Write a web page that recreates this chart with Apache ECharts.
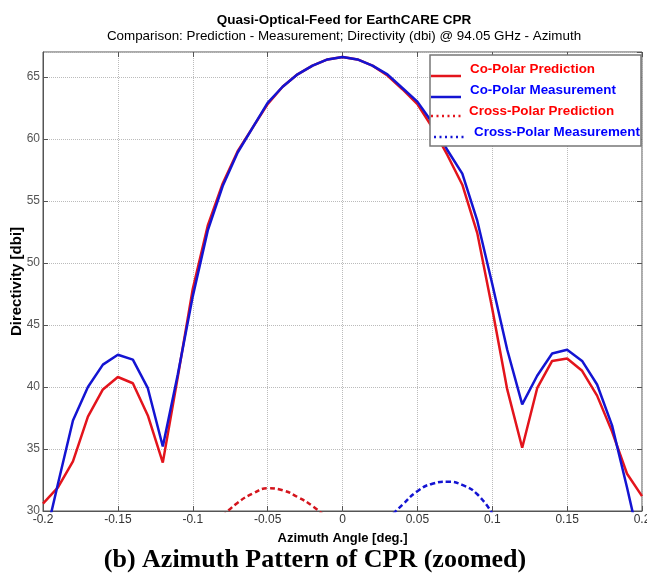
<!DOCTYPE html>
<html>
<head>
<meta charset="utf-8">
<script src="https://cdn.jsdelivr.net/npm/echarts@6/dist/echarts.min.js"></script>
<style>
html,body{margin:0;padding:0;background:#fff;}
#chart{width:647px;height:574px;}
</style>
</head>
<body>
<div id="chart"></div>
<script>
// Azimuth angles (deg.) for the co-polar curves
var angles = [-0.2,-0.19,-0.18,-0.17,-0.16,-0.15,-0.14,-0.13,-0.12,-0.11,-0.1,-0.09,-0.08,-0.07,-0.06,-0.05,-0.04,-0.03,-0.02,-0.01,0,
  0.01,0.02,0.03,0.04,0.05,0.06,0.07,0.08,0.09,0.1,0.11,0.12,0.13,0.14,0.15,0.16,0.17,0.18,0.19,0.2];
var coPolarPrediction = [30.6,31.9,34.0,37.6,39.8,40.8,40.3,37.7,33.9,40.8,47.9,53.0,56.4,59.0,60.9,62.8,64.2,65.2,65.9,66.4,66.6,
  66.4,65.9,65.1,64.0,62.8,60.9,58.7,56.3,52.4,46.3,39.8,35.1,39.9,42.1,42.3,41.3,39.3,36.4,33.0,31.2];
var coPolarMeasurement = [27.0,32.2,37.3,40.0,41.8,42.6,42.2,39.9,35.2,41.0,47.3,52.6,56.2,58.9,60.9,62.9,64.2,65.2,65.9,66.4,66.6,
  66.4,65.9,65.2,64.1,63.0,61.3,59.1,57.2,53.4,48.3,43.0,38.6,40.9,42.7,43.0,42.1,40.2,36.9,31.9,26.6];
var crossPredAngles = [-0.08,-0.07,-0.06,-0.05,-0.04,-0.03,-0.02,-0.01];
var crossPolarPrediction = [29.6,30.67,31.4,31.83,31.67,31.13,30.4,29.4];
var crossMeasAngles = [0.03,0.04,0.05,0.06,0.07,0.08,0.09,0.1];
var crossPolarMeasurement = [29.3,30.5,31.6,32.2,32.36,32.1,31.35,29.8];
var xTicks = [-0.2,-0.15,-0.1,-0.05,0,0.05,0.1,0.15,0.2];
var yTicks = [30,35,40,45,50,55,60,65];

var legendNames = ['Co-Polar Prediction','Co-Polar Measurement','Cross-Polar Prediction','Cross-Polar Measurement'];

var RED = '#e3141c', BLUE = '#1414d2';
function pairs(xs, ys){ return xs.map(function(x,i){ return [x, ys[i]]; }); }

var chart = echarts.init(document.getElementById('chart'), null, {renderer:'canvas'});
var FONT = 'Arial, "Liberation Sans", sans-serif';

var gridL = 43, gridT = 52, gridR = 5, gridB = 63;

var legendRows = [71, 92, 113, 134];
var legendGraphics = [
  {type:'rect', shape:{x:430, y:55, width:211, height:91}, style:{fill:'#fff', stroke:'#777', lineWidth:1.5}, z:100}
];
var lStyles = [
  {color:RED, dash:null, x1:431, x2:461, tx:470},
  {color:BLUE, dash:null, x1:431, x2:461, tx:470},
  {color:RED, dash:[2,3.5], x1:431, x2:461, tx:469},
  {color:BLUE, dash:[2,3.5], x1:434, x2:464, tx:474}
];
legendNames.forEach(function(n,i){
  var s = lStyles[i];
  legendGraphics.push({type:'line', shape:{x1:s.x1, y1:legendRows[i]+(s.dash?3:5), x2:s.x2, y2:legendRows[i]+(s.dash?3:5)},
    style:{stroke:s.color, lineWidth:2.5, lineDash:s.dash||null}, z:101});
  legendGraphics.push({type:'text', left:s.tx, top:legendRows[i]-8, style:{text:n, fill:s.color==RED?'#ff0000':'#0000ff',
    font:'bold 13.4px ' + FONT}, z:101});
});

var tickAxisCommon = {axisLine:{show:false, onZero:false}, axisTick:{show:true, inside:true, length:5, lineStyle:{color:'#555'}},
  axisLabel:{show:false}, splitLine:{show:false}};

var option = {
  backgroundColor:'#fff',
  animation:false,
  title:[
    {text:'Quasi-Optical-Feed for EarthCARE CPR', subtext:'Comparison: Prediction - Measurement; Directivity (dbi) @ 94.05 GHz - Azimuth',
     left:339, textAlign:'center', top:8, itemGap:3,
     textStyle:{fontFamily:FONT, fontWeight:'bold', fontSize:13.5, color:'#000'},
     subtextStyle:{fontFamily:FONT, fontSize:13.4, color:'#000'}},
    {text:'(b) Azimuth Pattern of CPR (zoomed)', left:310, textAlign:'center', top:542,
     textStyle:{fontFamily:'"Liberation Serif", "Times New Roman", serif', fontWeight:'bold', fontSize:26, color:'#000'}}
  ],
  grid:{left:gridL, right:gridR, top:gridT, bottom:gridB, show:true, borderColor:'#555', borderWidth:1, backgroundColor:'#fff',
        containLabel:false, outerBoundsMode:'none'},
  xAxis:[
    {type:'value', min:-0.2, max:0.2, interval:0.05, position:'bottom',
     name:'Azimuth Angle [deg.]', nameLocation:'middle', nameGap:21, nameMoveOverlap:false,
     nameTextStyle:{fontFamily:FONT, fontWeight:'bold', fontSize:13, color:'#000'},
     axisLine:{show:true, onZero:false, lineStyle:{color:'#555'}},
     axisTick:{show:true, inside:true, length:5, lineStyle:{color:'#555'}},
     axisLabel:{fontFamily:FONT, fontSize:12, color:'#333', margin:3,
       formatter:function(v){ return String(Math.round(v*100)/100); }},
     splitLine:{show:true, lineStyle:{color:'#bbb', type:'dotted'}}},
    Object.assign({type:'value', min:-0.2, max:0.2, interval:0.05, position:'top'}, tickAxisCommon)
  ],
  yAxis:[
    {type:'value', min:30, max:67, interval:5, position:'left',
     name:'Directivity [dbi]', nameLocation:'middle', nameGap:19, nameMoveOverlap:false,
     nameTextStyle:{fontFamily:FONT, fontWeight:'bold', fontSize:15, color:'#000'},
     axisLine:{show:true, onZero:false, lineStyle:{color:'#555'}},
     axisTick:{show:true, inside:true, length:5, lineStyle:{color:'#555'}},
     axisLabel:{fontFamily:FONT, fontSize:12, color:'#555', margin:3, showMaxLabel:false},
     splitLine:{show:true, lineStyle:{color:'#bbb', type:'dotted'}}},
    Object.assign({type:'value', min:30, max:67, interval:5, position:'right'}, tickAxisCommon)
  ],
  series:[
    {name:legendNames[0], type:'line', data:pairs(angles, coPolarPrediction), symbol:'none', clip:true,
     lineStyle:{color:RED, width:2.5}, z:3},
    {name:legendNames[1], type:'line', data:pairs(angles, coPolarMeasurement), symbol:'none', clip:true,
     lineStyle:{color:BLUE, width:2.5}, z:4},
    {name:legendNames[2], type:'line', data:pairs(crossPredAngles, crossPolarPrediction), symbol:'none', clip:true, smooth:0.5,
     lineStyle:{color:'#d4141c', width:2.5, type:[5,3]}, z:3},
    {name:legendNames[3], type:'line', data:pairs(crossMeasAngles, crossPolarMeasurement), symbol:'none', clip:true, smooth:0.5,
     lineStyle:{color:BLUE, width:2.5, type:[5,3]}, z:3}
  ],
  graphic: legendGraphics
};
chart.setOption(option);
</script>
</body>
</html>
